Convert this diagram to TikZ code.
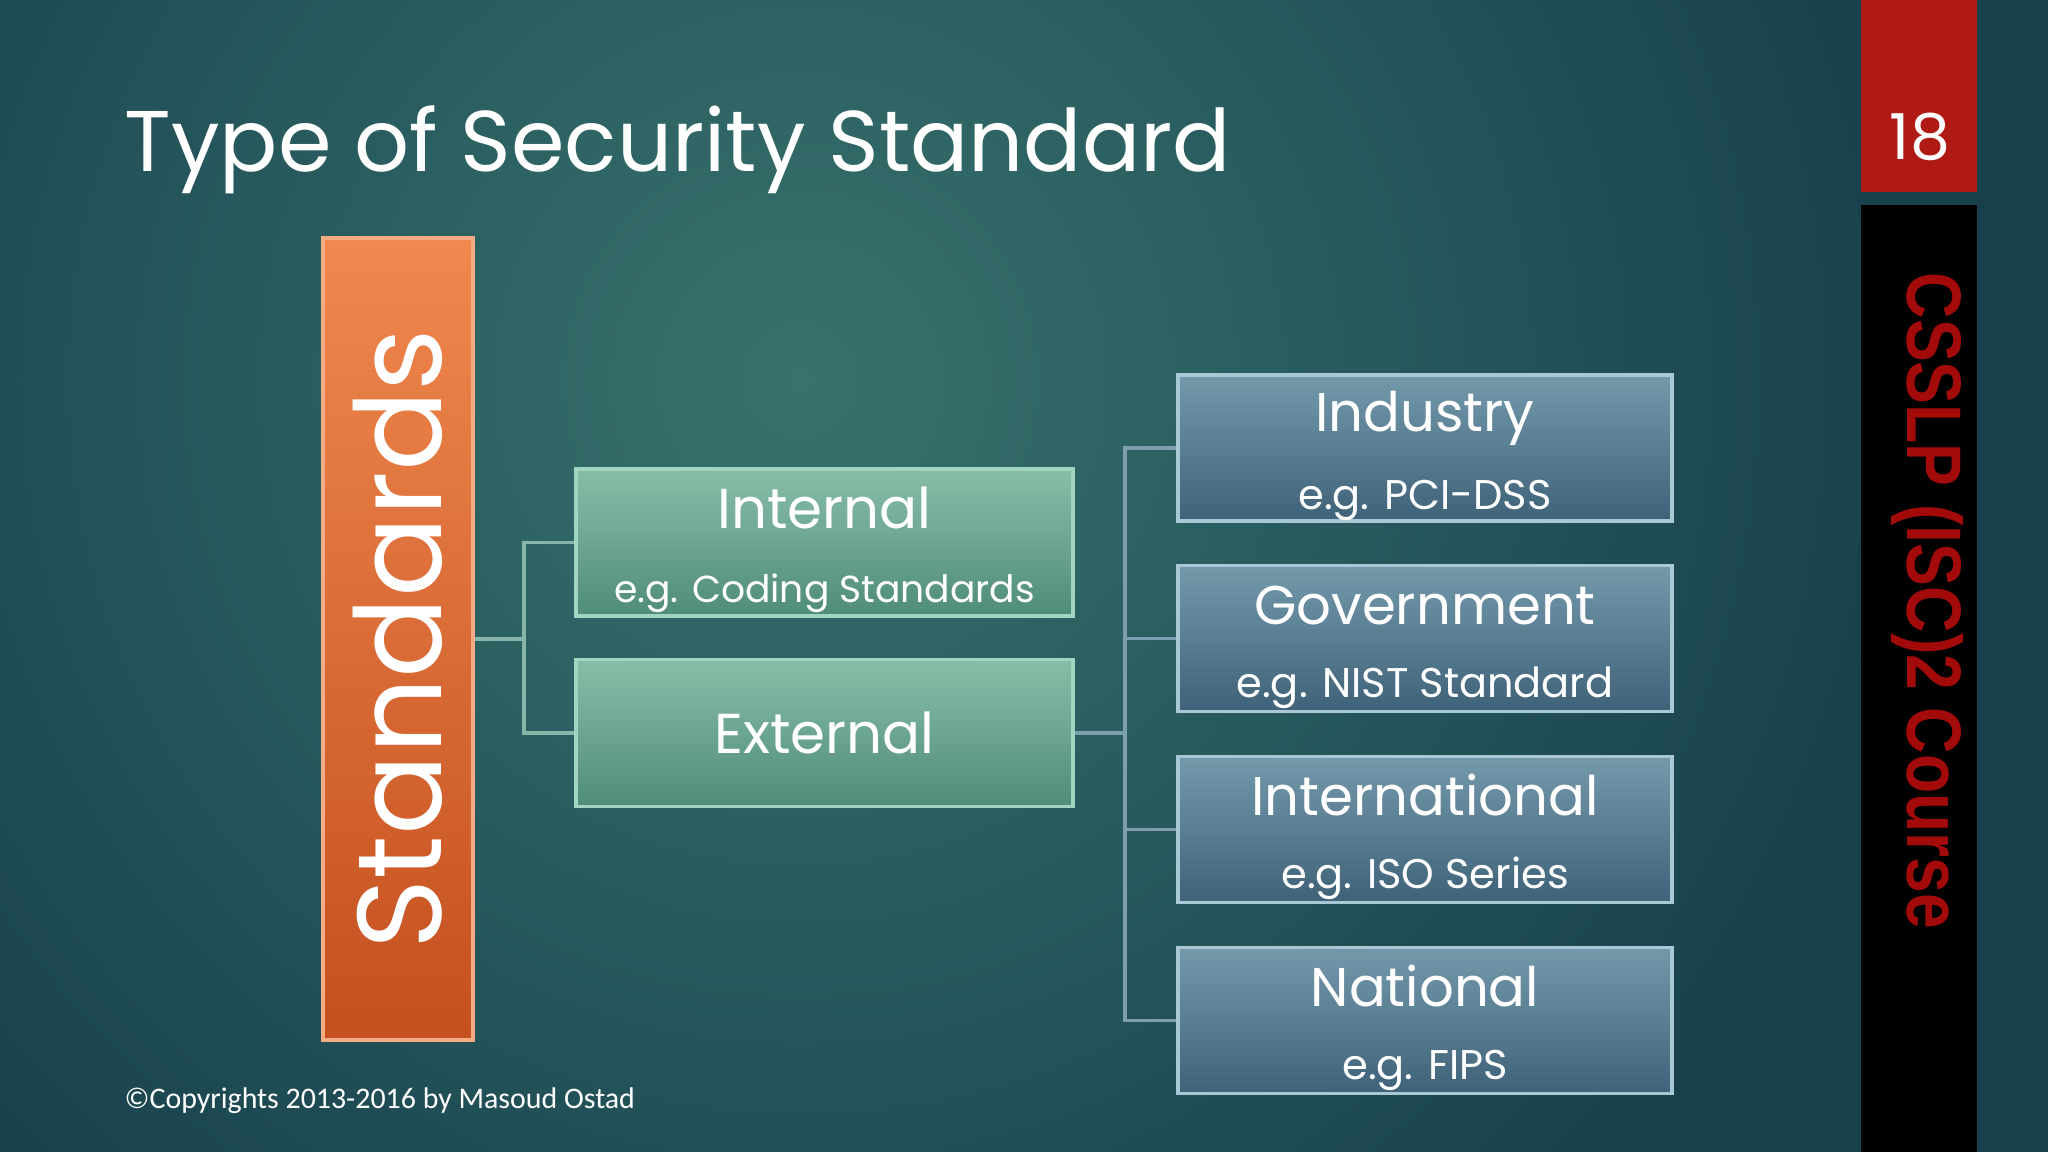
\documentclass[tikz,border=0pt]{standalone}
\usepackage{fontspec}
\setmainfont{Poppins}
\newfontfamily\copyfont{Carlito}
\newfontfamily\coursefont{Liberation Sans}
\definecolor{bgdark}{HTML}{173F4C}
\definecolor{bglight}{HTML}{37726D}
\definecolor{greentop}{HTML}{88BEA8}
\definecolor{greenbot}{HTML}{4F8C7A}
\definecolor{greenedge}{HTML}{A2D4C2}
\definecolor{bluetop}{HTML}{7499AB}
\definecolor{bluebot}{HTML}{3F6278}
\definecolor{blueedge}{HTML}{A8C8D6}
\definecolor{orangetop}{HTML}{F0884F}
\definecolor{orangebot}{HTML}{C4501F}
\definecolor{slidered}{HTML}{B01A14}
\definecolor{coursered}{HTML}{A30A0A}
\def\lhead#1{{\fontsize{16}{17}\selectfont #1}}
\def\lsub#1{{\fontsize{10.7}{12}\selectfont #1}}
\def\rhead#1{{\fontsize{15.5}{17}\selectfont #1}}
\def\rsub#1{{\fontsize{11.8}{13}\selectfont #1}}
\def\lpair#1#2{\lhead{\rule{0pt}{16pt}#1}\\[9pt]\lsub{#2}}
\def\rpair#1#2{\rhead{\rule{0pt}{16pt}#1}\\[9pt]\rsub{#2}}
\tikzset{
  greenbox/.style={draw=greenedge,line width=1pt,top color=greentop,bottom color=greenbot,
    minimum width=4.97cm,minimum height=1.47cm,inner sep=0pt,text=white,align=center},
  bluebox/.style={draw=blueedge,line width=1pt,top color=bluetop,bottom color=bluebot,
    minimum width=4.94cm,minimum height=1.46cm,inner sep=0pt,text=white,align=center},
  link/.style={line width=1pt,draw=#1},
}

\begin{document}
\begin{tikzpicture}[x=0.01cm,y=-0.01cm]
\useasboundingbox (0,0) rectangle (2048,1152);
\fill[bgdark] (0,0) rectangle (2048,1152);
\begin{scope}
\clip (0,0) rectangle (2048,1152);
\shade[inner color=bglight,outer color=bgdark] (800,380) circle (1150);
\end{scope}
% title and footer
\node[anchor=base west,text=white,inner sep=0pt] (title) at (124,172)
  {\fontsize{24.5}{30}\selectfont Type of Security Standard};
\node[anchor=base west,text=white,inner sep=0pt] (copy) at (124,1108)
  {\copyfont\fontsize{8.5}{10}\selectfont \textcopyright Copyrights 2013-2016 by Masoud Ostad};
% side bar
\node[fill=slidered,minimum width=1.16cm,minimum height=1.92cm,inner sep=0pt] (page) at (1919,96) {};
\node[text=white,inner sep=0pt] (num) at (1920,137) {\fontsize{18}{20}\selectfont 18};
\node[fill=black,minimum width=1.16cm,minimum height=9.47cm,inner sep=0pt] (bar) at (1919,678.5) {};
\node[rotate=-90,text=coursered,inner sep=0pt] (course) at (1927,601)
  {\coursefont\bfseries\fontsize{22}{24}\selectfont\scalebox{0.83}[1]{CSSLP (ISC)2 Course}};
% boxes
\node[rotate=90,draw=orangetop!70!white,line width=1pt,left color=orangetop,right color=orangebot,
  shading angle=0,minimum width=8.02cm,minimum height=1.5cm,inner sep=0pt,text=white] (std) at (398,639)
  {\fontsize{34}{36}\selectfont Standards};
\node[greenbox] (int) at (824.5,542.5) {\lpair{Internal}{e.g. Coding Standards}};
\node[greenbox] (ext) at (824.5,733) {\lhead{External}};
\node[bluebox] (ind) at (1425,448) {\rpair{Industry}{e.g. PCI-DSS}};
\node[bluebox] (gov) at (1425,638.5) {\rpair{Government}{e.g. NIST Standard}};
\node[bluebox] (intl) at (1425,829.5) {\rpair{International}{e.g. ISO Series}};
\node[bluebox] (nat) at (1425,1020.5) {\rpair{National}{e.g. FIPS}};
% connectors
\coordinate (jl) at (524,639);
\coordinate (jr) at (1125,733);
\draw[link=greenedge!80!bgdark] (std.south) -- (jl);
\foreach \n in {int,ext}
  \draw[link=greenedge!80!bgdark] (jl) |- (\n.west);
\draw[link=blueedge!70!bgdark] (ext.east) -- (jr);
\foreach \n in {ind,gov,intl,nat}
  \draw[link=blueedge!70!bgdark] (jr) |- (\n.west);
\end{tikzpicture}
\end{document}
